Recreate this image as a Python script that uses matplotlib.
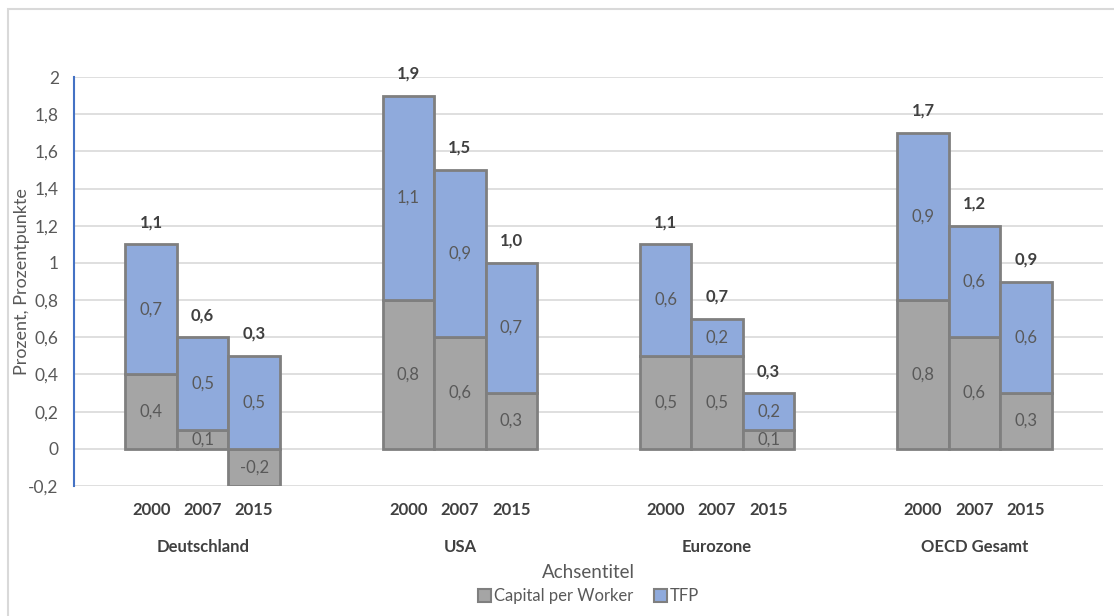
import numpy as np
import matplotlib.pyplot as plt
from matplotlib.patches import Patch, Rectangle

# ==============================================================================
regions = ["Deutschland", "USA", "Eurozone", "OECD Gesamt"]
years = ["2000", "2007", "2015"]
capital = [[0.4, 0.1, -0.2],
           [0.8, 0.6, 0.3],
           [0.5, 0.5, 0.1],
           [0.8, 0.6, 0.3]]
tfp = [[0.7, 0.5, 0.5],
       [1.1, 0.9, 0.7],
       [0.6, 0.2, 0.2],
       [0.9, 0.6, 0.6]]
totals = [[1.1, 0.6, 0.3],
          [1.9, 1.5, 1.0],
          [1.1, 0.7, 0.3],
          [1.7, 1.2, 0.9]]
yticks = [-0.2, 0, 0.2, 0.4, 0.6, 0.8, 1, 1.2, 1.4, 1.6, 1.8, 2]

# ==============================================================================
plt.rcParams['font.family'] = ['Lato', 'DejaVu Sans']
gray_fill = "#a5a5a5"
blue_fill = "#8faadc"
edge = "#7f7f7f"
txt = "#595959"
dark = "#404040"

def fmt(v):
    return ("%.1f" % v).replace(".", ",")

fig = plt.figure(figsize=(11.14, 6.16), dpi=100)
ax = fig.add_axes([74/1114, 1-486/616, (1103-74)/1114, (486-77)/616])

# outer chart frame
fig.patches.append(Rectangle((8/1114, -0.1), 1.2, 1-9/616+0.1, transform=fig.transFigure,
                             fill=False, edgecolor="#d9d9d9", linewidth=1.5))

for i, reg in enumerate(regions):
    xs = np.arange(3) + i*5
    cap = np.array(capital[i])
    tf = np.array(tfp[i])
    tf_bottom = np.where(cap > 0, cap, 0)
    ax.bar(xs, cap, width=1.0, color=gray_fill, edgecolor=edge, linewidth=2, zorder=3)
    ax.bar(xs, tf, width=1.0, bottom=tf_bottom, color=blue_fill, edgecolor=edge, linewidth=2, zorder=3)
    for j in range(3):
        ax.text(xs[j], cap[j]/2, fmt(cap[j]), ha="center", va="center", fontsize=12, color=txt, zorder=4)
        ax.text(xs[j], tf_bottom[j] + tf[j]/2, fmt(tf[j]), ha="center", va="center", fontsize=12, color=txt, zorder=4)
        top = tf_bottom[j] + tf[j]
        ax.text(xs[j], top + 0.075, fmt(totals[i][j]), ha="center", va="bottom", fontsize=12,
                fontweight="bold", color=dark, zorder=4)
        ax.text(xs[j], -0.33, years[j], ha="center", va="center", fontsize=12, fontweight="bold", color=dark)
    ax.text(xs[1], -0.53, reg, ha="center", va="center", fontsize=12, fontweight="bold", color=dark)

ax.set_xlim(-1.5, 18.5)
ax.set_ylim(-0.2, 2)
ax.set_yticks(yticks)
ax.set_yticklabels([fmt(t) if t not in (0, 1, 2) else str(int(t)) for t in yticks])
ax.set_xticks([])
ax.tick_params(axis="y", length=0, labelsize=12.5, labelcolor=txt, pad=11)
ax.grid(axis="y", color="#d9d9d9", linewidth=1.2, zorder=0)
for s in ["top", "right", "bottom"]:
    ax.spines[s].set_visible(False)
ax.spines["left"].set_color("#4472c4")
ax.spines["left"].set_linewidth(1.5)
ax.set_ylabel("Prozent, Prozentpunkte", fontsize=13, color=txt)
ax.yaxis.set_label_coords((30-74)/1029, 0.5)

fig.text((74+1103)/2/1114, 1-572/616, "Achsentitel", ha="center", va="center", fontsize=13.5, color=txt)

handles = [Patch(facecolor=gray_fill, edgecolor=edge, linewidth=1.5, label="Capital per Worker"),
           Patch(facecolor=blue_fill, edgecolor=edge, linewidth=1.5, label="TFP")]
fig.legend(handles=handles, loc="center", bbox_to_anchor=((74+1103)/2/1114, 1-596/616), ncol=2,
           frameon=False, fontsize=12, labelcolor=txt, handlelength=0.8, handleheight=0.8,
           handletextpad=0.2, columnspacing=1.2)

plt.savefig("out.png", dpi=100)
